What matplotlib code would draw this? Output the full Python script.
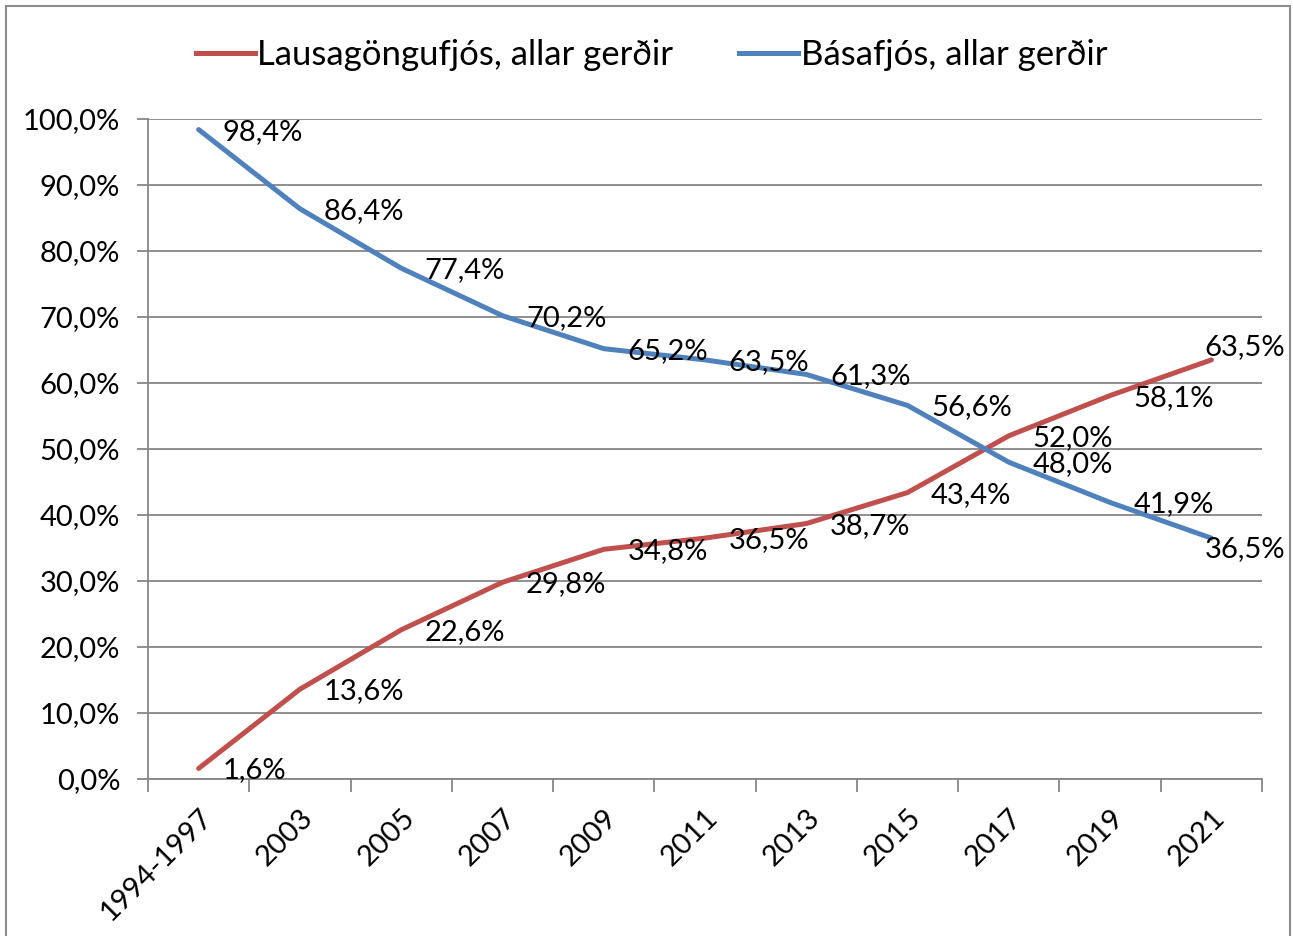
import matplotlib
matplotlib.use("Agg")
import matplotlib.pyplot as plt
from matplotlib.patches import Rectangle
from matplotlib.lines import Line2D
import numpy as np

plt.rcParams['font.family'] = ['Lato', 'DejaVu Sans']

categories = ["1994-1997", "2003", "2005", "2007", "2009", "2011", "2013", "2015", "2017", "2019", "2021"]
lausa = [1.6, 13.6, 22.6, 29.8, 34.8, 36.5, 38.7, 43.4, 52.0, 58.1, 63.5]
basa = [98.4, 86.4, 77.4, 70.2, 65.2, 63.5, 61.3, 56.6, 48.0, 41.9, 36.5]
yticks = [0, 10, 20, 30, 40, 50, 60, 70, 80, 90, 100]

red = "#C0504D"
blue = "#4F81BD"
grid_c = "#868686"
fs = 21

fig = plt.figure(figsize=(12.93, 9.36), dpi=100)
ax = fig.add_axes([148/1293, 1-779/936, (1262-148)/1293, (779-119)/936])

x = np.arange(len(categories))
ax.plot(x, lausa, color=red, lw=3.6, solid_capstyle='round', zorder=3)
ax.plot(x, basa, color=blue, lw=3.6, solid_capstyle='round', zorder=3)

ax.set_xlim(-0.5, len(categories) - 0.5)
ax.set_ylim(0, 100)
ax.set_yticks(yticks)
ax.set_yticklabels([f"{v:.1f}%".replace(".", ",") for v in yticks], fontsize=fs)
ax.yaxis.grid(True, color=grid_c, lw=1.3)
ax.set_axisbelow(True)

ax.set_xticks(x)
ax.set_xticklabels(categories, rotation=45, ha='right', va='top', rotation_mode='anchor', fontsize=fs)
ax.tick_params(axis='x', length=0, pad=18)
ax.set_xticks(np.arange(-0.5, len(categories)), minor=True)
ax.tick_params(axis='x', which='minor', length=9, color=grid_c, width=1.3)
ax.tick_params(axis='y', length=8, color=grid_c, width=1.3, pad=12)

for s in ['top', 'right']:
    ax.spines[s].set_visible(False)
for s in ['left', 'bottom']:
    ax.spines[s].set_color(grid_c)
    ax.spines[s].set_linewidth(1.3)

def lab(v):
    return f"{v:.1f}%".replace(".", ",")

n = len(categories)
for i in range(n):
    if i < n - 1:
        ax.annotate(lab(lausa[i]), (x[i], lausa[i]), xytext=(17, -1.5), textcoords='offset points',
                    ha='left', va='center', fontsize=fs, zorder=4)
        ax.annotate(lab(basa[i]), (x[i], basa[i]), xytext=(17, -1.5), textcoords='offset points',
                    ha='left', va='center', fontsize=fs, zorder=4)
    else:
        ax.annotate(lab(lausa[i]), (x[i], lausa[i]), xytext=(24, 9), textcoords='offset points',
                    ha='center', va='center', fontsize=fs, zorder=4)
        ax.annotate(lab(basa[i]), (x[i], basa[i]), xytext=(24, -8), textcoords='offset points',
                    ha='center', va='center', fontsize=fs, zorder=4)

# legend
handles = [Line2D([], [], color=red, lw=3.6), Line2D([], [], color=blue, lw=3.6)]
fig.legend(handles, ["Lausagöngufjós, allar gerðir", "Básafjós, allar gerðir"],
           loc='center', bbox_to_anchor=(0.504, 1-55/936), ncol=2, frameon=False,
           fontsize=25, handlelength=1.7, handletextpad=0.06, columnspacing=1.9)

# outer border
fig.patches.append(Rectangle((6/1293, -0.01), 1284/1293, 1-6/936+0.01, transform=fig.transFigure,
                             fill=False, edgecolor="#8c8c8c", lw=1.5))

fig.savefig("out.png", dpi=100)
